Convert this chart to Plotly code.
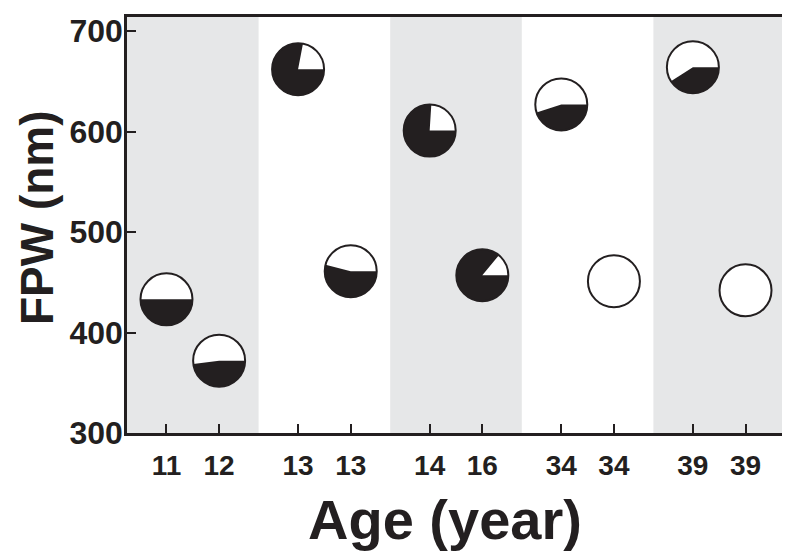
import numpy as np
import plotly.graph_objects as go

# data
ages = ["11", "12", "13", "13", "14", "16", "34", "34", "39", "39"]
fpw = [433, 372, 662, 461, 601, 457, 627, 451, 664, 442]
black_frac = [0.50, 0.48, 0.78, 0.54, 0.76, 0.86, 0.45, 0.0, 0.41, 0.0]
y_ticks = [300, 400, 500, 600, 700]

BLACK = "#231f20"
GRAY = "#e6e7e8"
R = 26  # pie radius in px

# two samples per shaded band, band i spans [i, i+1]
xpos = [i // 2 + 0.5 + (-0.2 if i % 2 == 0 else 0.2) for i in range(len(ages))]
n_bands = len(ages) // 2

fig = go.Figure()

# invisible points so the axes know the data
fig.add_trace(go.Scatter(
    x=xpos, y=fpw, mode="markers",
    marker=dict(size=2 * R, color="rgba(0,0,0,0)"),
    hovertext=[f"Age {a}: {v} nm" for a, v in zip(ages, fpw)],
    hoverinfo="text", showlegend=False,
))

shapes = []
# grey bands
for b in range(0, n_bands, 2):
    shapes.append(dict(type="rect", xref="x", yref="paper", x0=b, x1=b + 1,
                       y0=0, y1=1, fillcolor=GRAY, line_width=0, layer="below"))

for x, y, f in zip(xpos, fpw, black_frac):
    common = dict(xref="x", yref="y", xsizemode="pixel", ysizemode="pixel",
                  xanchor=x, yanchor=y, layer="above")
    # white disc
    shapes.append(dict(type="circle", x0=-R, x1=R, y0=-R, y1=R,
                       fillcolor="white", line_width=0, **common))
    # black wedge, from 3 o'clock going clockwise
    if f > 0:
        th = np.linspace(0, -2 * np.pi * f, 80)
        pts = " ".join(f"L{R * np.cos(t):.2f},{R * np.sin(t):.2f}" for t in th)
        shapes.append(dict(type="path", path=f"M0,0 {pts} Z",
                           fillcolor=BLACK, line_width=0, **common))
    # outline
    shapes.append(dict(type="circle", x0=-R, x1=R, y0=-R, y1=R,
                       fillcolor="rgba(0,0,0,0)", line=dict(color=BLACK, width=2), **common))

# axis titles as annotations so they can sit further out than plotly allows
annotations = [
    dict(text="Age (year)", xref="paper", yref="paper", x=0.483, y=-0.208,
         xanchor="center", yanchor="middle", showarrow=False,
         font=dict(size=56, weight="bold", color=BLACK)),
    dict(text="FPW (nm)", xref="paper", yref="paper", x=-0.1368, y=0.519,
         xanchor="center", yanchor="middle", showarrow=False, textangle=-90,
         font=dict(size=46, weight="bold", color=BLACK)),
]

# page body keeps its 8px margin, so the figure is 16px smaller than the window
fig.update_layout(
    width=782, height=544,
    margin=dict(l=119, r=5, t=9, b=119),
    plot_bgcolor="white", paper_bgcolor="white",
    font=dict(family="Liberation Sans, Arial, sans-serif", color=BLACK, weight="bold"),
    shapes=shapes,
    annotations=annotations,
    xaxis=dict(
        range=[0, n_bands], tickmode="array", tickvals=xpos, ticktext=ages,
        ticks="inside", ticklen=9, tickwidth=2, tickcolor=BLACK,
        tickfont=dict(size=28, weight="bold"), ticklabelstandoff=6,
        showgrid=False, zeroline=False, automargin=False,
        showline=True, linewidth=2.5, linecolor=BLACK, mirror=True,
    ),
    yaxis=dict(
        range=[300, 714], tickmode="array", tickvals=y_ticks,
        ticks="inside", ticklen=9, tickwidth=2, tickcolor=BLACK,
        tickfont=dict(size=32, weight="bold"), ticklabelstandoff=-5,
        showgrid=False, zeroline=False, automargin=False,
        showline=True, linewidth=2.5, linecolor=BLACK, mirror=True,
    ),
)

fig.write_html("out.html")
